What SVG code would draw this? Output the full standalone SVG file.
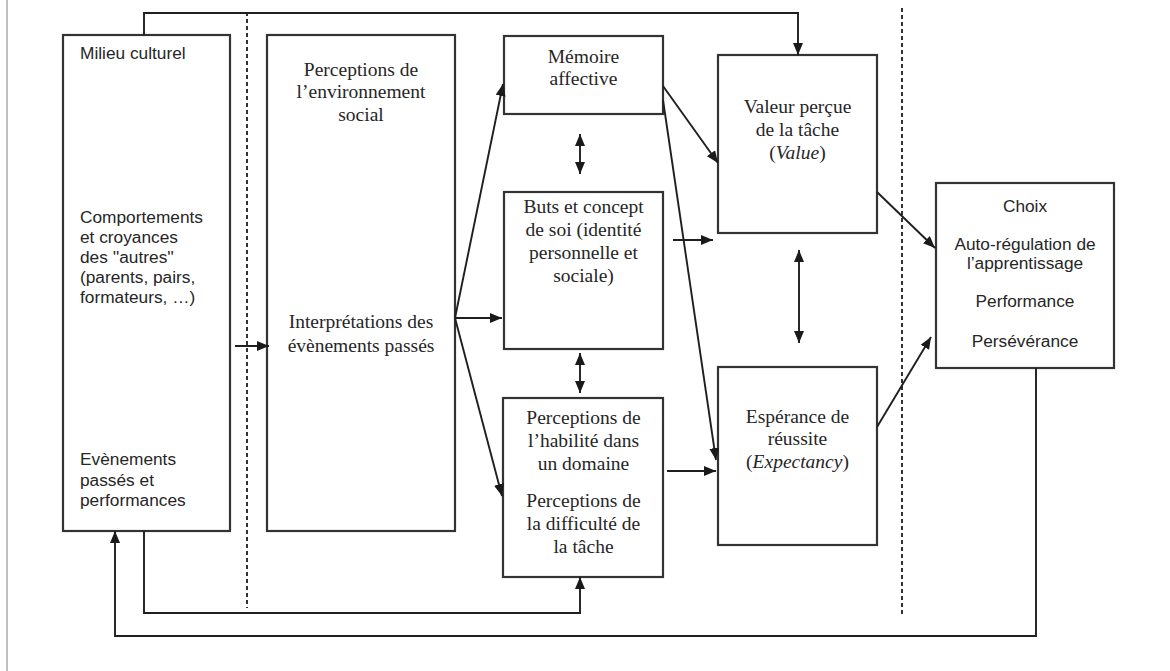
<svg xmlns="http://www.w3.org/2000/svg" width="1170" height="671" viewBox="0 0 1170 671">
<defs>
<marker id="ah" viewBox="0 0 12 10" refX="12" refY="5" markerWidth="12" markerHeight="10" markerUnits="userSpaceOnUse" orient="auto-start-reverse">
<path d="M0,0 L12,5 L0,10 z" fill="#1a1a1a"/>
</marker>
<style>
.box{fill:#fff;stroke:#333;stroke-width:2.2}
.sans{font-family:"Liberation Sans",Arial,sans-serif;font-size:17.3px;fill:#262626}
.serif{font-family:"Liberation Serif","Times New Roman",serif;font-size:19.5px;fill:#262626;text-anchor:middle}
.mid{text-anchor:middle}
.con path{fill:none;stroke:#1f1f1f;stroke-width:1.9}
.dash{stroke:#333;stroke-width:2;stroke-dasharray:4 3;fill:none}
</style>
</defs>
<rect width="1170" height="671" fill="#fff"/>
<line x1="7" y1="0" x2="7" y2="671" stroke="#aaa" stroke-width="1.5"/>
<line class="dash" x1="247" y1="12" x2="247" y2="608"/>
<line class="dash" x1="902" y1="8" x2="902" y2="615"/>

<g id="milieu">
<rect class="box" x="63" y="35" width="167" height="496"/>
<text class="sans" x="80" y="59">Milieu culturel</text>
<text class="sans" x="80" y="223">Comportements</text>
<text class="sans" x="80" y="243">et croyances</text>
<text class="sans" x="80" y="263">des ''autres''</text>
<text class="sans" x="80" y="283">(parents, pairs,</text>
<text class="sans" x="80" y="303">formateurs, …)</text>
<text class="sans" x="80" y="465">Evènements</text>
<text class="sans" x="80" y="486">passés et</text>
<text class="sans" x="80" y="506">performances</text>
</g>

<g id="perceptions-env">
<rect class="box" x="267" y="35" width="188" height="496"/>
<text class="serif" x="361" y="76">Perceptions de</text>
<text class="serif" x="361" y="98">l’environnement</text>
<text class="serif" x="361" y="121">social</text>
<text class="serif" x="361" y="328">Interprétations des</text>
<text class="serif" x="361" y="352">évènements passés</text>
</g>

<g id="memoire">
<rect class="box" x="504" y="36" width="159" height="78"/>
<text class="serif" x="583.5" y="63">Mémoire</text>
<text class="serif" x="583.5" y="85">affective</text>
</g>

<g id="buts">
<rect class="box" x="504" y="192" width="159" height="157"/>
<text class="serif" x="583.5" y="213">Buts et concept</text>
<text class="serif" x="583.5" y="236">de soi (identité</text>
<text class="serif" x="583.5" y="259">personnelle et</text>
<text class="serif" x="583.5" y="282">sociale)</text>
</g>

<g id="perceptions-habilite">
<rect class="box" x="503" y="398" width="160" height="179"/>
<text class="serif" x="583.5" y="424">Perceptions de</text>
<text class="serif" x="583.5" y="447">l’habilité dans</text>
<text class="serif" x="583.5" y="470">un domaine</text>
<text class="serif" x="583.5" y="507">Perceptions de</text>
<text class="serif" x="583.5" y="530">la difficulté de</text>
<text class="serif" x="583.5" y="553">la tâche</text>
</g>

<g id="valeur">
<rect class="box" x="718" y="55" width="159" height="178"/>
<text class="serif" x="797.5" y="113">Valeur perçue</text>
<text class="serif" x="797.5" y="136">de la tâche</text>
<text class="serif" x="797.5" y="159">(<tspan font-style="italic">Value</tspan>)</text>
</g>

<g id="esperance">
<rect class="box" x="718" y="367" width="159" height="178"/>
<text class="serif" x="797.5" y="423">Espérance de</text>
<text class="serif" x="797.5" y="445">réussite</text>
<text class="serif" x="797.5" y="468">(<tspan font-style="italic">Expectancy</tspan>)</text>
</g>

<g id="choix">
<rect class="box" x="936" y="183" width="178" height="185"/>
<text class="sans mid" x="1025" y="212">Choix</text>
<text class="sans mid" x="1025" y="250">Auto-régulation de</text>
<text class="sans mid" x="1025" y="269">l’apprentissage</text>
<text class="sans mid" x="1025" y="307">Performance</text>
<text class="sans mid" x="1025" y="347">Persévérance</text>
</g>

<g id="connectors" class="con">
<path d="M144,35 V13 H798 V55" marker-end="url(#ah)"/>
<path d="M235,346 H269" marker-end="url(#ah)"/>
<path d="M455,318 H502" marker-end="url(#ah)"/>
<path d="M455,318 L503,84" marker-end="url(#ah)"/>
<path d="M455,318 L502,496" marker-end="url(#ah)"/>
<path d="M663,86 L718,163" marker-end="url(#ah)"/>
<path d="M663,100 L716,460" marker-end="url(#ah)"/>
<path d="M673,240 H713" marker-end="url(#ah)"/>
<path d="M667,471 H716" marker-end="url(#ah)"/>
<path d="M877,192 L935,248" marker-end="url(#ah)"/>
<path d="M877,427 L931,337" marker-end="url(#ah)"/>
<path d="M580,134 V174" marker-start="url(#ah)" marker-end="url(#ah)"/>
<path d="M580,353 V393" marker-start="url(#ah)" marker-end="url(#ah)"/>
<path d="M799,250 V343" marker-start="url(#ah)" marker-end="url(#ah)"/>
<path d="M144,531 V613 H580 V577" marker-end="url(#ah)"/>
<path d="M1036,368 V636 H115 V531" marker-end="url(#ah)"/>
</g>
</svg>
